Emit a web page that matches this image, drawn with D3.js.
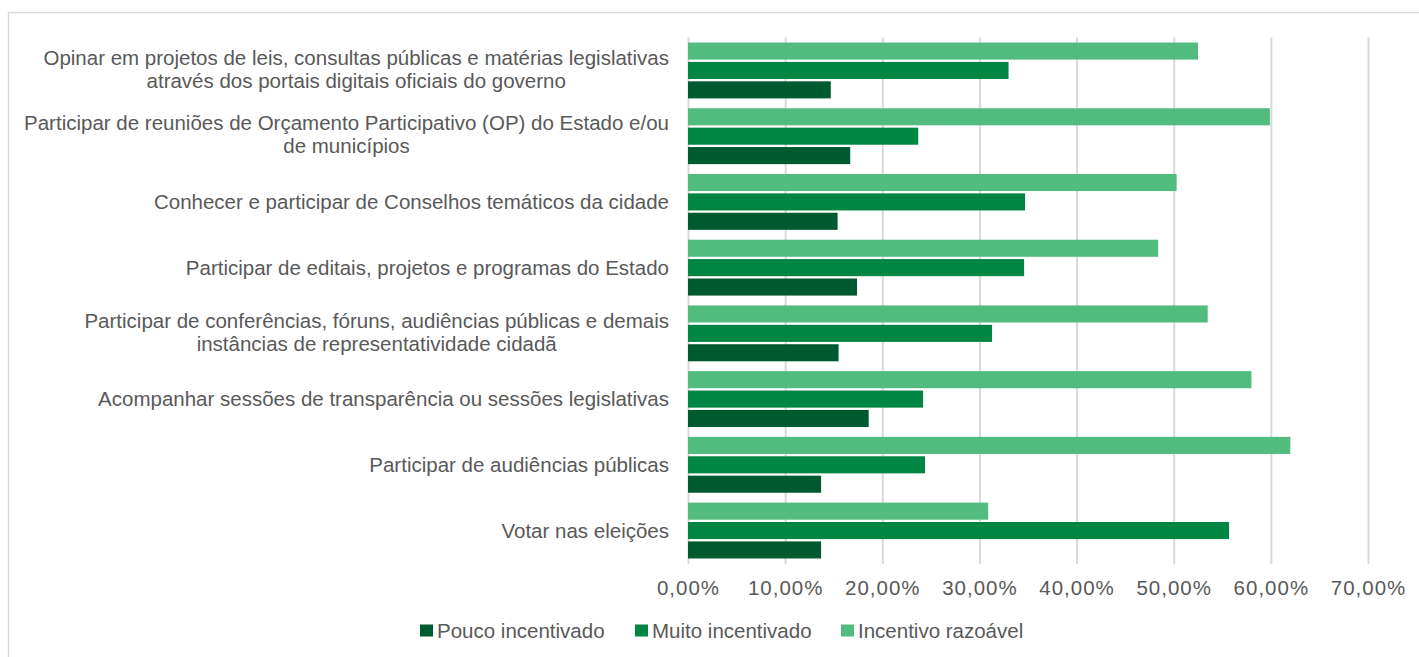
<!DOCTYPE html>
<html>
<head>
<meta charset="utf-8">
<script src="https://cdn.jsdelivr.net/npm/d3@7"></script>
<style>
  html, body { margin: 0; padding: 0; background: #fff; }
  svg { display: block; font-family: "Liberation Sans", Arial, sans-serif; }
</style>
</head>
<body>
<svg id="chart" width="1419" height="657"></svg>
<script>
// Activities (top to bottom); each label is split into its display lines
const categories = [
  "Opinar em projetos de leis, consultas públicas e matérias legislativas|através dos portais digitais oficiais do governo",
  "Participar de reuniões de Orçamento Participativo (OP) do Estado e/ou|de municípios",
  "Conhecer e participar de Conselhos temáticos da cidade",
  "Participar de editais, projetos e programas do Estado",
  "Participar de conferências, fóruns, audiências públicas e demais|instâncias de representatividade cidadã",
  "Acompanhar sessões de transparência ou sessões legislativas",
  "Participar de audiências públicas",
  "Votar nas eleições"
];

// Share of respondents per level of incentive (fractions)
const poucoIncentivado = [0.147, 0.167, 0.154, 0.174, 0.155, 0.186, 0.137, 0.137];
const muitoIncentivado = [0.330, 0.237, 0.347, 0.346, 0.313, 0.242, 0.244, 0.557];
const incentivoRazoavel = [0.525, 0.599, 0.503, 0.484, 0.535, 0.580, 0.620, 0.309];

const seriesNames = ["Pouco incentivado", "Muito incentivado", "Incentivo razoável"];
const seriesColors = ["#005a30", "#008542", "#52bb7e"];
const tickValues = [0, 0.1, 0.2, 0.3, 0.4, 0.5, 0.6, 0.7];

const seriesValues = [poucoIncentivado, muitoIncentivado, incentivoRazoavel];
const series = seriesNames.map((name, i) => ({ name, color: seriesColors[i], values: seriesValues[i] }));

const svg = d3.select("#chart");
const textColor = "#595959";
const fontSize = 20.5;

// Outer chart frame
svg.append("rect")
  .attr("x", 8.5).attr("y", 12.5)
  .attr("width", 1430).attr("height", 670)
  .attr("fill", "none").attr("stroke", "#d9d9d9").attr("stroke-width", 1.5);

const plot = { left: 688, right: 1368, top: 37.6, bottom: 563.4 };

const x = d3.scaleLinear().domain([0, 0.7]).range([plot.left, plot.right]);

const y0 = d3.scaleBand()
  .domain(d3.range(categories.length))
  .range([plot.top, plot.bottom])
  .paddingInner(0.15)
  .paddingOuter(0.075);

// Within a group: razoável on top, muito in the middle, pouco at the bottom
const stackOrder = ["Incentivo razoável", "Muito incentivado", "Pouco incentivado"];
const y1 = d3.scaleBand()
  .domain(stackOrder)
  .range([0, y0.bandwidth()])
  .paddingInner(0.12);

// Vertical gridlines with small ticks below the plot
const xAxis = d3.axisBottom(x)
  .tickValues(tickValues)
  .tickSize(-(plot.bottom - plot.top) - 0.6)
  .tickPadding(16)
  .tickFormat(d => d3.format(".2f")(d * 100).replace(".", ",") + "%");

const gx = svg.append("g")
  .attr("transform", `translate(0,${plot.bottom + 0.6})`)
  .call(xAxis);
gx.select(".domain").remove();
gx.selectAll(".tick line").attr("stroke", "#d9d9d9").attr("stroke-width", 2);
gx.selectAll(".tick text")
  .attr("fill", textColor)
  .attr("font-size", fontSize)
  .attr("letter-spacing", "1px")
  .attr("font-family", "Liberation Sans, Arial, sans-serif");

// Bars
const groups = svg.append("g").selectAll("g")
  .data(categories.map((c, i) => i))
  .join("g")
  .attr("transform", i => `translate(0,${y0(i)})`);

groups.selectAll("rect")
  .data(i => series.map(s => ({ name: s.name, color: s.color, value: s.values[i] })))
  .join("rect")
  .attr("x", x(0))
  .attr("y", d => y1(d.name))
  .attr("width", d => x(d.value) - x(0))
  .attr("height", y1.bandwidth())
  .attr("fill", d => d.color);

// Category labels: right-aligned block, lines centred within the block
const labelRight = 669;
const lineHeight = 23;
const labels = svg.append("g")
  .attr("font-size", fontSize)
  .attr("fill", textColor);

categories.forEach((c, i) => {
  const lines = c.split("|");
  const g = labels.append("g");
  const cy = y0(i) + y0.bandwidth() / 2 - (lines.length > 1 ? 1.5 : 0);
  const texts = lines.map((ln, k) => g.append("text")
    .attr("y", cy + (k - (lines.length - 1) / 2) * lineHeight)
    .attr("dy", "0.35em")
    .text(ln));
  const widths = texts.map(t => t.node().getComputedTextLength());
  const maxW = d3.max(widths);
  texts.forEach(t => t.attr("x", labelRight - maxW / 2).attr("text-anchor", "middle"));
});

// Legend
const legendItems = [
  { name: seriesNames[0], color: seriesColors[0], x: 420 },
  { name: seriesNames[1], color: seriesColors[1], x: 635 },
  { name: seriesNames[2], color: seriesColors[2], x: 841 }
];
const legend = svg.append("g").attr("transform", "translate(0,631)");
legendItems.forEach(it => {
  legend.append("rect")
    .attr("x", it.x).attr("y", -6.5)
    .attr("width", 13).attr("height", 12)
    .attr("fill", it.color);
  legend.append("text")
    .attr("x", it.x + 17).attr("y", 0)
    .attr("dy", "0.35em")
    .attr("font-size", fontSize)
    .attr("fill", textColor)
    .text(it.name);
});
</script>
</body>
</html>
